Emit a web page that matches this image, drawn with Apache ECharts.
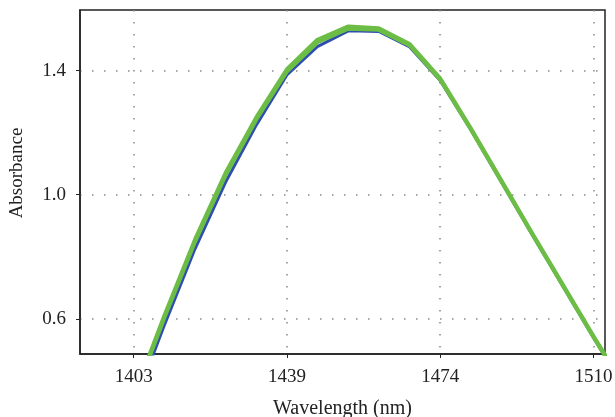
<!DOCTYPE html>
<html>
<head>
<meta charset="utf-8">
<script src="https://cdn.jsdelivr.net/npm/echarts@6/dist/echarts.min.js"></script>
<style>
  html, body { margin: 0; padding: 0; background: #fff; }
  #chart { width: 615px; height: 417px; }
</style>
</head>
<body>
<div id="chart"></div>
<script>
// wavelength of each sample (nm)
const wavelengths = [1403.3, 1410.4, 1417.6, 1424.7, 1431.9, 1439.0, 1446.1, 1453.3, 1460.4,
  1467.6, 1474.7, 1481.8, 1489.0, 1496.1, 1503.3, 1510.4, 1517.5];
// absorbance spectra
const blueSpectrum = [0.32, 0.578, 0.826, 1.04, 1.225, 1.386, 1.477, 1.528, 1.526,
  1.476, 1.368, 1.21, 1.04, 0.872, 0.705, 0.54, 0.38];
const greenSpectrumA = [0.35, 0.609, 0.856, 1.07, 1.25, 1.404, 1.499, 1.542, 1.536,
  1.485, 1.375, 1.215, 1.045, 0.877, 0.71, 0.545, 0.385];
const greenSpectrumB = [0.344, 0.602, 0.849, 1.063, 1.243, 1.397, 1.491, 1.535, 1.531,
  1.481, 1.371, 1.212, 1.042, 0.874, 0.707, 0.542, 0.382];
// tick positions / labels
const xTickValues = [1403.3, 1439.0, 1474.7, 1510.4];
const xTickLabels = ["1403", "1439", "1474", "1510"];
const yTickValues = [0.6, 1.0, 1.4];
const yTickLabels = ["0.6", "1.0", "1.4"];

const font = "Liberation Serif";
const chart = echarts.init(document.getElementById("chart"), null, { renderer: "canvas" });

function pairs(ys) {
  return wavelengths.map((x, i) => [x, ys[i]]);
}

const option = {
  animation: false,
  grid: {
    left: 80,
    right: 10,
    top: 10,
    bottom: 63,
    outerBoundsMode: "none",
    containLabel: false,
    show: true,
    borderColor: "#222",
    borderWidth: 1.5,
    backgroundColor: "transparent",
  },
  xAxis: {
    type: "value",
    min: 1390.8,
    max: 1513.1,
    name: "Wavelength (nm)",
    nameLocation: "middle",
    nameGap: 45,
    nameTextStyle: { fontFamily: font, fontSize: 20, color: "#222" },
    axisLine: { lineStyle: { color: "#222", width: 1.5 } },
    axisTick: { show: true, length: 4, customValues: xTickValues, lineStyle: { color: "#222" } },
    axisLabel: {
      customValues: xTickValues,
      fontFamily: font,
      fontSize: 19,
      color: "#222",
      margin: 14,
      formatter: (v) => xTickLabels[xTickValues.indexOf(v)],
    },
    splitLine: {
      show: true,
      lineStyle: { color: "#888", width: 1.5, type: [1.5, 10.5] },
    },
  },
  yAxis: {
    type: "value",
    min: 0.487,
    max: 1.595,
    name: "Absorbance",
    nameLocation: "middle",
    nameGap: 53,
    nameTextStyle: { fontFamily: font, fontSize: 19, color: "#222", padding: [0, 0, 0, 18] },
    axisLine: { show: true, lineStyle: { color: "#222", width: 1.5 } },
    axisTick: { show: true, length: 4, customValues: yTickValues, lineStyle: { color: "#222" } },
    axisLabel: {
      customValues: yTickValues,
      fontFamily: font,
      fontSize: 19,
      color: "#222",
      margin: 14,
      formatter: (v) => yTickLabels[yTickValues.indexOf(v)],
    },
    splitLine: {
      show: true,
      lineStyle: { color: "#888", width: 1.5, type: [1.5, 10.5] },
    },
  },
  series: [
    {
      name: "blue",
      type: "line",
      symbol: "none",
      clip: true,
      data: pairs(blueSpectrum),
      lineStyle: { color: "#2f4fae", width: 3 },
    },
    {
      name: "greenB",
      type: "line",
      symbol: "none",
      clip: true,
      data: pairs(greenSpectrumB),
      lineStyle: { color: "#6cbd45", width: 4 },
    },
    {
      name: "greenA",
      type: "line",
      symbol: "none",
      clip: true,
      data: pairs(greenSpectrumA),
      lineStyle: { color: "#6cbd45", width: 4 },
    },
  ],
};

chart.setOption(option);
window.addEventListener("resize", chart.resize);
</script>
</body>
</html>
